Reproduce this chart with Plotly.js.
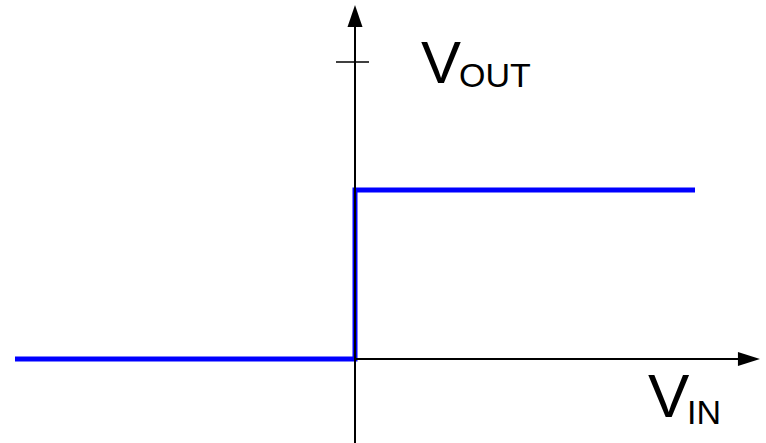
<!DOCTYPE html>
<html>
<head>
<meta charset="utf-8">
<script src="https://cdn.plot.ly/plotly-3.0.1.min.js"></script>
<style>html,body{margin:0;padding:0;background:#fff;}#chart{width:766px;height:443px;}</style>
</head>
<body>
<div id="chart"></div>
<script>
// ---- data ----
const vin  = [-1, 0, 0, 1];      // input voltage (normalised)
const vout = [0, 0, 1, 1];       // output voltage (normalised)
const yTickVals = [1.757];       // single unlabeled tick on the V_OUT axis
const xLabel = ['V', 'IN'];
const yLabel = ['V', 'OUT'];

// ---- geometry / style ----
const W = 766, H = 443;
const xRange = [-1.0441, 1.2088];
const yRange = [-0.497, 2.1243];
const xTip = 1.191, yTip = 2.095;
const font = 'Liberation Sans, Arial, sans-serif';
const px = v => v / W, py = v => 1 - v / H;

const shapes = [
  // x axis line
  {type:'line', xref:'x', yref:'y', x0:0, x1:xTip - 0.05, y0:0, y1:0, line:{color:'#000', width:2}},
  // y axis line
  {type:'line', xref:'x', yref:'y', x0:0, x1:0, y0:yRange[0], y1:yTip - 0.1, line:{color:'#000', width:2}},
  // y arrow head
  {type:'path', xref:'x', yref:'y', xsizemode:'pixel', ysizemode:'pixel', xanchor:0, yanchor:yTip,
   path:'M-7.5,-22 L7.5,-22 L0,0 Z', fillcolor:'#000', line:{width:0}},
  // x arrow head
  {type:'path', xref:'x', yref:'y', xsizemode:'pixel', ysizemode:'pixel', xanchor:xTip, yanchor:0,
   path:'M-22,-7 L-22,7 L0,0 Z', fillcolor:'#000', line:{width:0}}
];
yTickVals.forEach(t => shapes.push(
  {type:'line', xref:'x', yref:'y', xsizemode:'pixel', xanchor:0, x0:-19, x1:14, y0:t, y1:t,
   line:{color:'#000', width:1.5}}));

const annotations = [
  {text:yLabel[0], xref:'paper', yref:'paper', x:px(419), y:py(27), xanchor:'left', yanchor:'top',
   showarrow:false, font:{family:font, size:60, color:'#000'}},
  {text:yLabel[1], xref:'paper', yref:'paper', x:px(457), y:py(54), xanchor:'left', yanchor:'top',
   showarrow:false, font:{family:font, size:34, color:'#000'}},
  {text:xLabel[0], xref:'paper', yref:'paper', x:px(646), y:py(359), xanchor:'left', yanchor:'top',
   showarrow:false, font:{family:font, size:62, color:'#000'}},
  {text:xLabel[1], xref:'paper', yref:'paper', x:px(685), y:py(391), xanchor:'left', yanchor:'top',
   showarrow:false, font:{family:font, size:34, color:'#000'}}
];

const trace = {
  x: vin, y: vout, type:'scatter', mode:'lines',
  line:{color:'#0000ff', width:5}, hoverinfo:'skip'
};

const layout = {
  width:W, height:H, margin:{l:0, r:0, t:0, b:0},
  paper_bgcolor:'#fff', plot_bgcolor:'#fff', showlegend:false,
  xaxis:{range:xRange, visible:false, fixedrange:true},
  yaxis:{range:yRange, visible:false, fixedrange:true},
  shapes, annotations
};

Plotly.newPlot('chart', [trace], layout, {staticPlot:true, displayModeBar:false});
</script>
</body>
</html>
